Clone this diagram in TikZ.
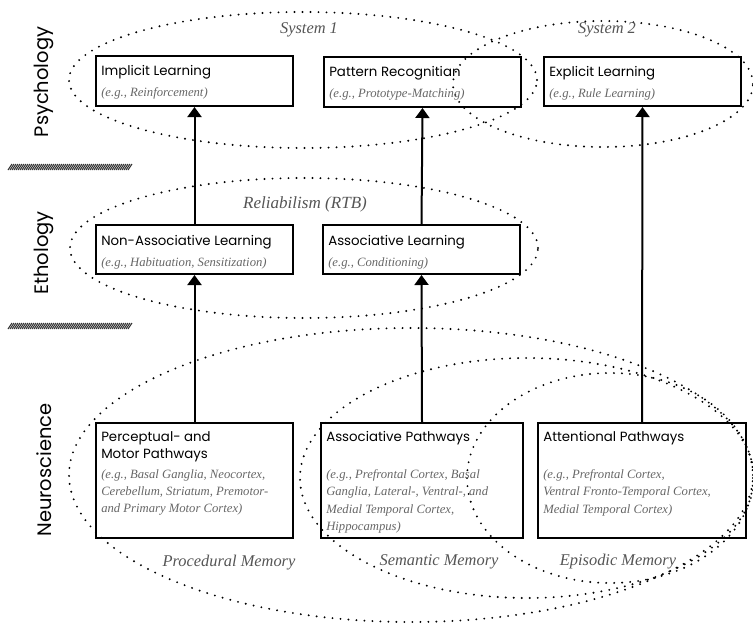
\documentclass[tikz,border=0pt]{standalone}
\usepackage{fontspec}
\setmainfont{Liberation Serif}
\newfontfamily\titlefont{Poppins}
\usetikzlibrary{calc,arrows.meta}
\definecolor{exgray}{HTML}{666666}
\definecolor{labgray}{HTML}{555555}
\tikzset{
  box/.style={draw, line width=1.5pt, inner sep=0pt, anchor=north west},
  ttl/.style={anchor=base west, inner sep=0pt, font=\titlefont\fontsize{10}{12.75}\selectfont},
  ttlm/.style={anchor=north west, inner sep=0pt, align=left, font=\titlefont\fontsize{10}{12.75}\selectfont},
  ex/.style={anchor=base west, inner sep=0pt, text=exgray,
     font=\itshape\fontsize{9.5}{13.1}\selectfont},
  exm/.style={anchor=north west, inner sep=0pt, text=exgray, align=left,
     font=\itshape\fontsize{9.5}{13.1}\selectfont},
  side/.style={rotate=90, inner sep=0pt, font=\titlefont\fontsize{14.6}{16}\selectfont},
  lab/.style={inner sep=0pt, text=labgray, font=\itshape\fontsize{12.3}{14}\selectfont},
  dots/.style={line width=1.6pt, line cap=round, dash pattern=on 0pt off 6pt},
  arr/.style={line width=1.5pt, -{Triangle[width=10.5pt,length=7.5pt]}}
}
\begin{document}
\begin{tikzpicture}[x=0.75pt,y=-0.75pt]
\useasboundingbox (0,0) rectangle (753,628);
\clip (0,0) rectangle (753,628);
% ellipses
\draw[dots] (303,80) ellipse [x radius={234*0.75pt}, y radius={68*0.75pt}];
\draw[dots] (603,84) ellipse [x radius={150*0.75pt}, y radius={63*0.75pt}];
\draw[dots] (304,248) ellipse [x radius={234*0.75pt}, y radius={70*0.75pt}];
\draw[dots] (411,475) ellipse [x radius={342*0.75pt}, y radius={147*0.75pt}];
\draw[dots] (527,478) ellipse [x radius={227*0.75pt}, y radius={120*0.75pt}];
\draw[dots] (610,478) ellipse [x radius={143*0.75pt}, y radius={105*0.75pt}];
% ellipse labels
\node[lab] (sys1) at (309,30) {System 1};
\node[lab] (sys2) at (607,30) {System 2};
\node[lab, font=\itshape\fontsize{12.8}{14}\selectfont] (rtb) at (305,204) {Reliabilism (RTB)};
\node[lab] (proc) at (229,563) {Procedural Memory};
\node[lab] (sem) at (439,562) {Semantic Memory};
\node[lab] (epi) at (618,562) {Episodic Memory};
% side labels
\node[side] (psy) at (44,82) {Psychology};
\node[side] (eth) at (44,253) {Ethology};
\node[side] (neu) at (44,470) {Neuroscience};
% hatch bars
\foreach \yb in {170,329} {
  \foreach \i in {0,...,60} \draw[line width=0.8pt, black!80] ({8+2*\i},\yb) -- ({12+2*\i},\yb-6);
}
% row 1
\node[box, minimum width={197*0.75pt}, minimum height={50*0.75pt}] (impl) at (95,55) {};
\node[box, minimum width={197*0.75pt}, minimum height={50*0.75pt}] (patt) at (323,56) {};
\node[box, minimum width={197*0.75pt}, minimum height={49*0.75pt}] (expl) at (543,56) {};
\node[ttl] (implT) at ($(impl.north west)+(6,20)$) {Implicit Learning};
\node[ex] (implE) at ($(impl.north west)+(6,41)$) {(e.g., Reinforcement)};
\node[ttl] (pattT) at ($(patt.north west)+(6,20)$) {Pattern Recognitian};
\node[ex] (pattE) at ($(patt.north west)+(6,41)$) {(e.g., Prototype-Matching)};
\node[ttl] (explT) at ($(expl.north west)+(6,20)$) {Explicit Learning};
\node[ex] (explE) at ($(expl.north west)+(6,41)$) {(e.g., Rule Learning)};
% row 2
\node[box, minimum width={197*0.75pt}, minimum height={49*0.75pt}] (nonass) at (95,224) {};
\node[box, minimum width={197*0.75pt}, minimum height={49*0.75pt}] (assl) at (322,224) {};
\node[ttl] (nonassT) at ($(nonass.north west)+(6,21)$) {Non-Associative Learning};
\node[ex] (nonassE) at ($(nonass.north west)+(6,42)$) {(e.g., Habituation, Sensitization)};
\node[ttl] (asslT) at ($(assl.north west)+(6,21)$) {Associative Learning};
\node[ex] (asslE) at ($(assl.north west)+(6,42)$) {(e.g., Conditioning)};
% row 3
\node[box, minimum width={197*0.75pt}, minimum height={115*0.75pt}] (perc) at (95,422) {};
\node[box, minimum width={202*0.75pt}, minimum height={115*0.75pt}] (assp) at (320,422) {};
\node[box, minimum width={208*0.75pt}, minimum height={115*0.75pt}] (att) at (537,422) {};
\node[ttlm] (percT) at ($(perc.north west)+(6,9)$) {Perceptual- and\\Motor Pathways};
\node[exm] (percE) at ($(perc.north west)+(6,47)$) {(e.g., Basal Ganglia, Neocortex,\\Cerebellum, Striatum, Premotor-\\and Primary Motor Cortex)};
\node[ttl] (asspT) at ($(assp.north west)+(6,19)$) {Associative Pathways};
\node[exm] (asspE) at ($(assp.north west)+(6,47)$) {(e.g., Prefrontal Cortex, Basal\\Ganglia, Lateral-, Ventral-, and\\Medial Temporal Cortex,\\Hippocampus)};
\node[ttl] (attT) at ($(att.north west)+(6,19)$) {Attentional Pathways};
\node[exm] (attE) at ($(att.north west)+(6,47)$) {(e.g., Prefrontal Cortex,\\Ventral Fronto-Temporal Cortex,\\Medial Temporal Cortex)};
% arrows
\draw[arr] (perc.north) -- (nonass.south);
\draw[arr] (nonass.north) -- (impl.south);
\draw[arr] (assp.north) -- (assl.south);
\draw[arr] (assl.north) -- (patt.south);
\draw[arr] (att.north) -- (expl.south);
\end{tikzpicture}
\end{document}
